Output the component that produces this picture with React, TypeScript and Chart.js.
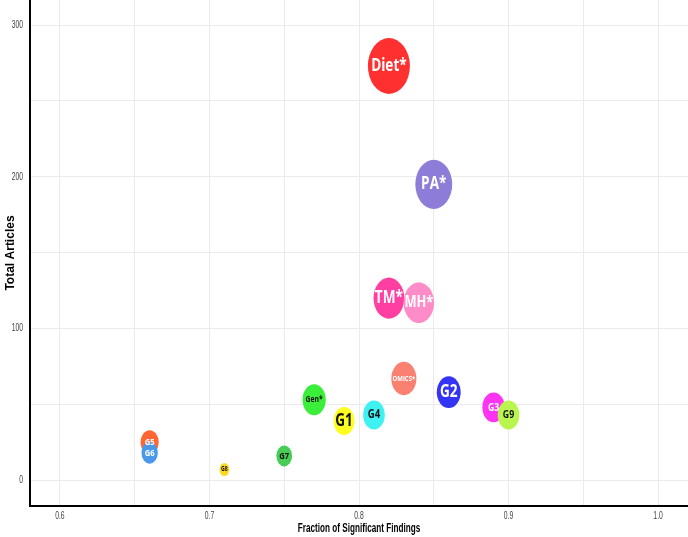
import { useEffect, useRef } from 'react';
import { Chart, registerables } from 'chart.js';

Chart.register(...registerables);

// Research areas, their share of significant findings and article counts
const groups = ['Diet*', 'PA*', 'TM*', 'MH*', 'OMICS*', 'G2', 'Gen*', 'G1', 'G4', 'G3', 'G9', 'G5', 'G6', 'G7', 'G8'];
const fractionSignificant = [0.82, 0.85, 0.82, 0.84, 0.83, 0.86, 0.77, 0.79, 0.81, 0.89, 0.9, 0.66, 0.66, 0.75, 0.71];
const totalArticles = [273, 195, 120, 117, 67, 58, 53, 39, 43, 48, 43, 25, 18, 16, 7];

// Grid positions and the ones that carry a label
const xGridValues = [0.6, 0.65, 0.7, 0.75, 0.8, 0.85, 0.9, 0.95, 1.0];
const xTickLabels = [0.6, 0.7, 0.8, 0.9, 1.0];
const yGridValues = [0, 50, 100, 150, 200, 250, 300];
const yTickLabels = [0, 100, 200, 300];

const xTitle = 'Fraction of Significant Findings';
const yTitle = 'Total Articles';

// Per-group look: fill, label colour, label font size
const groupStyle: Record<string, { fill: string; text: string; font: number }> = {
  'Diet*': { fill: '#ff3030', text: '#ffffff', font: 17 },
  'PA*': { fill: '#8e7dd8', text: '#ffffff', font: 17 },
  'TM*': { fill: '#ff3fa2', text: '#ffffff', font: 17 },
  'MH*': { fill: '#ff8cc8', text: '#ffffff', font: 16 },
  'OMICS*': { fill: '#fa8072', text: '#ffffff', font: 7.5 },
  G2: { fill: '#3434f5', text: '#ffffff', font: 17 },
  'Gen*': { fill: '#3aee3a', text: '#111111', font: 8.5 },
  G1: { fill: '#ffff22', text: '#111111', font: 17 },
  G4: { fill: '#3ff2f2', text: '#111111', font: 12 },
  G3: { fill: '#ff33f2', text: '#ffffff', font: 11 },
  G9: { fill: '#b9f54e', text: '#111111', font: 11 },
  G5: { fill: '#ff6633', text: '#ffffff', font: 9.5 },
  G6: { fill: '#4a98ea', text: '#ffffff', font: 9.5 },
  G7: { fill: '#47cc55', text: '#111111', font: 9.5 },
  G8: { fill: '#ffd820', text: '#111111', font: 6.5 },
};

// Bubble size: area grows with article count (sqrt mapping onto a radius range)
const R_MIN = 6.5;
const R_MAX = 28;
const ASPECT = 0.75; // horizontal squash of the markers
const TEXT_SQUASH = 0.8;
const AXIS_TEXT_SQUASH = 0.68;

const vMin = Math.min(...totalArticles);
const vMax = Math.max(...totalArticles);
const radiusFor = (v: number) => R_MIN + (R_MAX - R_MIN) * Math.sqrt((v - vMin) / (vMax - vMin));

const fixBox = (w: number | null, h: number | null) => (s: any) => {
  if (w !== null) s.width = w;
  if (h !== null) s.height = h;
  s.paddingLeft = 0;
  s.paddingRight = 0;
  s.paddingTop = 0;
  s.paddingBottom = 0;
};

const squashedText = (ctx: any, text: string, x: number, y: number, squash: number, align: string) => {
  ctx.save();
  ctx.translate(x, y);
  ctx.scale(squash, 1);
  ctx.textAlign = align;
  ctx.textBaseline = 'middle';
  ctx.fillText(text, 0, 0);
  ctx.restore();
};

const ellipseBubbles = {
  id: 'ellipseBubbles',
  afterDatasetsDraw(chart: any) {
    const { ctx, chartArea } = chart;
    const meta = chart.getDatasetMeta(0);
    ctx.save();
    ctx.beginPath();
    ctx.rect(chartArea.left, chartArea.top, chartArea.right - chartArea.left, chartArea.bottom - chartArea.top);
    ctx.clip();
    meta.data.forEach((el: any, i: number) => {
      const r = el.options.radius;
      const st = groupStyle[groups[i]];
      ctx.beginPath();
      ctx.ellipse(el.x, el.y, r * ASPECT, r, 0, 0, Math.PI * 2);
      ctx.fillStyle = st.fill;
      ctx.fill();
    });
    meta.data.forEach((el: any, i: number) => {
      const st = groupStyle[groups[i]];
      ctx.font = `bold ${st.font}px 'Open Sans', 'Noto Sans', sans-serif`;
      ctx.fillStyle = st.text;
      squashedText(ctx, groups[i], el.x, el.y, TEXT_SQUASH, 'center');
    });
    ctx.restore();
  },
};

// Narrow tick labels and x title, placed with the chart's own scales
const axisText = {
  id: 'axisText',
  afterDraw(chart: any) {
    const { ctx, chartArea, scales } = chart;
    ctx.save();
    ctx.fillStyle = '#3f3f3f';
    ctx.font = "10px Arial, 'Liberation Sans', sans-serif";
    xTickLabels.forEach((v) => {
      squashedText(ctx, v.toFixed(1), scales.x.getPixelForValue(v), chartArea.bottom + 10.5, AXIS_TEXT_SQUASH, 'center');
    });
    yTickLabels.forEach((v) => {
      squashedText(ctx, String(v), chartArea.left - 7, scales.y.getPixelForValue(v), AXIS_TEXT_SQUASH, 'right');
    });
    ctx.fillStyle = '#000000';
    ctx.font = "bold 12px Arial, 'Liberation Sans', sans-serif";
    squashedText(ctx, xTitle, (chartArea.left + chartArea.right) / 2, chartArea.bottom + 22.5, 0.68, 'center');
    ctx.restore();
  },
};

export default function App() {
  const canvasRef = useRef<HTMLCanvasElement | null>(null);

  useEffect(() => {
    const canvas = canvasRef.current;
    if (!canvas) return;
    const chart = new Chart(canvas, {
      type: 'bubble',
      data: {
        datasets: [
          {
            data: groups.map((g, i) => ({
              x: fractionSignificant[i],
              y: totalArticles[i],
              r: radiusFor(totalArticles[i]),
            })),
            backgroundColor: 'rgba(0,0,0,0)',
            borderWidth: 0,
            hoverRadius: 0,
          },
        ],
      },
      options: {
        responsive: false,
        animation: false,
        events: [],
        layout: { padding: 0, autoPadding: false },
        plugins: { legend: { display: false }, tooltip: { enabled: false } },
        scales: {
          x: {
            type: 'linear',
            min: 0.58,
            max: 1.02,
            afterBuildTicks: (s: any) => {
              s.ticks = xGridValues.map((value) => ({ value }));
            },
            afterFit: fixBox(null, 31),
            ticks: { display: false },
            grid: { drawTicks: false, lineWidth: 1, color: '#ebebeb' },
            border: { color: '#000000', width: 2 },
            title: { display: false },
          },
          y: {
            type: 'linear',
            min: -17,
            max: 316.5,
            afterBuildTicks: (s: any) => {
              s.ticks = yGridValues.map((value) => ({ value }));
            },
            afterFit: fixBox(30, null),
            ticks: { display: false },
            grid: { drawTicks: false, lineWidth: 1, color: '#ebebeb' },
            border: { color: '#000000', width: 2 },
            title: {
              display: true,
              text: yTitle,
              color: '#000000',
              font: { family: "Arial, 'Liberation Sans', sans-serif", size: 12, weight: 'bold' },
              padding: { top: 3, bottom: 0 },
            },
          },
        },
      },
      plugins: [ellipseBubbles, axisText],
    });
    return () => chart.destroy();
  }, []);

  return (
    <div style={{ position: 'fixed', left: 0, top: 0, width: 688, height: 537, background: '#ffffff' }}>
      <canvas ref={canvasRef} width={688} height={537} />
    </div>
  );
}
